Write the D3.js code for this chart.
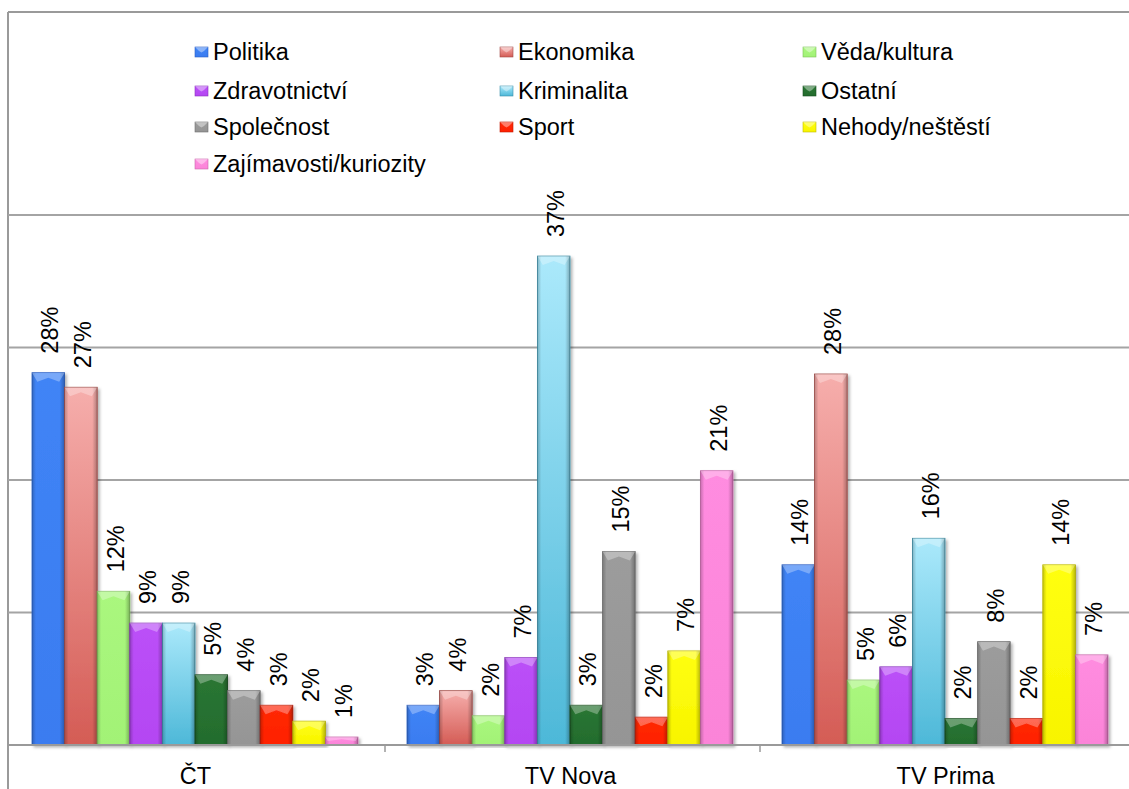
<!DOCTYPE html>
<html>
<head>
<meta charset="utf-8">
<script src="https://cdn.jsdelivr.net/npm/d3@7"></script>
<style>
  body { margin: 0; background: #fff; }
  text { font-family: "Liberation Sans", Arial, sans-serif; fill: #000; }
</style>
</head>
<body>
<div id="chart"></div>
<script>
const categories = ["ČT", "TV Nova", "TV Prima"];

const series = [
  "Politika",
  "Ekonomika",
  "Věda/kultura",
  "Zdravotnictví",
  "Kriminalita",
  "Ostatní",
  "Společnost",
  "Sport",
  "Nehody/neštěstí",
  "Zajímavosti/kuriozity",
];

// percentages per series, in category order (ČT, TV Nova, TV Prima)
const politika = [28.1, 3.0, 13.6];
const ekonomika = [27.0, 4.1, 28.0];
const veda = [11.6, 2.2, 4.9];
const zdravotnictvi = [9.2, 6.6, 5.9];
const kriminalita = [9.2, 36.9, 15.6];
const ostatni = [5.3, 3.0, 2.0];
const spolecnost = [4.1, 14.6, 7.8];
const sport = [3.0, 2.1, 2.0];
const nehody = [1.8, 7.1, 13.6];
const zajimavosti = [0.6, 20.7, 6.8];

const values = [politika, ekonomika, veda, zdravotnictvi, kriminalita, ostatni, spolecnost, sport, nehody, zajimavosti];

const yTicks = [0, 10, 20, 30, 40];

// [top colour, bottom colour, edge colour]
const colors = [
  ["#4084f6", "#3a7cf0", "#2b5fc4"],
  ["#f6aeac", "#d45c55", "#a04844"],
  ["#aaf77e", "#a2f276", "#7cc058"],
  ["#bb50f8", "#b446f2", "#8a34bc"],
  ["#abe9fb", "#4db8d8", "#3a8ea8"],
  ["#2a7634", "#236c2d", "#174d1f"],
  ["#9c9c9c", "#959595", "#707070"],
  ["#ff2a08", "#ff2000", "#c01800"],
  ["#ffff10", "#f8f400", "#c0bc00"],
  ["#ff8ce0", "#fb84d8", "#c865aa"],
];

const width = 1129;
const height = 789;
const fontSize = 23.5;

const svg = d3.select("#chart").append("svg")
  .attr("width", width)
  .attr("height", height);

const defs = svg.append("defs");

colors.forEach((c, i) => {
  const g = defs.append("linearGradient")
    .attr("id", "fill" + i)
    .attr("x1", 0).attr("y1", 0).attr("x2", 0).attr("y2", 1);
  g.append("stop").attr("offset", "0%").attr("stop-color", c[0]);
  g.append("stop").attr("offset", "100%").attr("stop-color", c[1]);
});

const edge = defs.append("linearGradient")
  .attr("id", "edge")
  .attr("x1", 0).attr("y1", 0).attr("x2", 1).attr("y2", 0);
[[0, 0.22], [0.12, 0], [0.85, 0], [1, 0.28]].forEach(([o, a]) => {
  edge.append("stop").attr("offset", o).attr("stop-color", "#000").attr("stop-opacity", a);
});

const shadow = defs.append("filter").attr("id", "shadow")
  .attr("x", "-20%").attr("y", "-5%").attr("width", "150%").attr("height", "115%");
shadow.append("feDropShadow")
  .attr("dx", 2).attr("dy", 2).attr("stdDeviation", 1.5)
  .attr("flood-color", "#000").attr("flood-opacity", 0.3);

// scales
const x0 = d3.scaleBand().domain(categories).range([10, 1135]);
const x1 = d3.scaleBand().domain(series).range([22, 348]);
const y = d3.scaleLinear().domain([0, 40]).range([745, 215]);

// frame
svg.append("line").attr("x1", 8).attr("x2", 8).attr("y1", 12).attr("y2", height)
  .attr("stroke", "#9a9a9a").attr("stroke-width", 2);
svg.append("line").attr("x1", 8).attr("x2", width).attr("y1", 12).attr("y2", 12)
  .attr("stroke", "#9a9a9a").attr("stroke-width", 2);

// gridlines
svg.append("g").selectAll("line")
  .data(yTicks.slice(1))
  .join("line")
  .attr("x1", 8).attr("x2", width)
  .attr("y1", (d) => y(d)).attr("y2", (d) => y(d))
  .attr("stroke", "#a4a4a4").attr("stroke-width", 2);

// bars
const fmt = (v) => Math.round(v) + "%";

const groups = svg.append("g").selectAll("g")
  .data(categories)
  .join("g")
  .attr("transform", (d) => `translate(${x0(d)},0)`);

groups.each(function (cat, ci) {
  const g = d3.select(this);
  series.forEach((s, si) => {
    const v = values[si][ci];
    const bx = x1(s);
    const bw = x1.bandwidth();
    const by = y(v);
    const bh = y(0) - by;
    const bar = g.append("g");
    bar.append("rect")
      .attr("x", bx).attr("y", by).attr("width", bw).attr("height", bh)
      .attr("fill", `url(#fill${si})`)
      .attr("stroke", colors[si][2]).attr("stroke-width", 0.8)
      .attr("filter", "url(#shadow)");
    bar.append("rect")
      .attr("x", bx).attr("y", by).attr("width", bw).attr("height", bh)
      .attr("fill", "url(#edge)");
    const bev = Math.min(9, bh / 2);
    bar.append("polygon")
      .attr("points", [
        [bx, by], [bx + bw, by], [bx + bw - bev * 0.6, by + bev],
        [bx + bw / 2, by + bev * 0.55], [bx + bev * 0.6, by + bev],
      ].map((p) => p.join(",")).join(" "))
      .attr("fill", "#fff").attr("opacity", 0.3);
    bar.append("text")
      .attr("transform", `translate(${bx + bw / 2 + 2},${by - 19}) rotate(-90)`)
      .attr("dominant-baseline", "central")
      .attr("font-size", fontSize)
      .text(fmt(v));
  });
});

// x axis
svg.append("line").attr("x1", 8).attr("x2", width).attr("y1", y(0)).attr("y2", y(0))
  .attr("stroke", "#9a9a9a").attr("stroke-width", 2);
svg.append("g").selectAll("line")
  .data(categories.slice(1))
  .join("line")
  .attr("x1", (d) => x0(d)).attr("x2", (d) => x0(d))
  .attr("y1", y(0)).attr("y2", y(0) + 7)
  .attr("stroke", "#9a9a9a").attr("stroke-width", 1.5);
svg.append("g").selectAll("text")
  .data(categories)
  .join("text")
  .attr("x", (d) => x0(d) + x0.bandwidth() / 2 - 2)
  .attr("y", 776)
  .attr("text-anchor", "middle")
  .attr("dominant-baseline", "central")
  .attr("font-size", fontSize)
  .text((d) => d);

// legend
const legendCols = [195, 500, 803];
const legendRows = [52, 91, 127, 164];
const legend = svg.append("g").selectAll("g")
  .data(series)
  .join("g")
  .attr("transform", (d, i) => `translate(${legendCols[i % 3]},${legendRows[Math.floor(i / 3)]})`);
legend.append("rect")
  .attr("x", 0).attr("y", -5).attr("width", 13).attr("height", 10)
  .attr("fill", (d, i) => `url(#fill${i})`)
  .attr("stroke", (d, i) => colors[i][2]).attr("stroke-width", 0.6);
legend.append("polygon")
  .attr("points", "0,-5 13,-5 9,-1 6.5,0.5 4,-1")
  .attr("fill", "#fff").attr("opacity", 0.4);
legend.append("text")
  .attr("x", 18).attr("y", 0)
  .attr("dominant-baseline", "central")
  .attr("font-size", fontSize)
  .text((d) => d);
</script>
</body>
</html>
